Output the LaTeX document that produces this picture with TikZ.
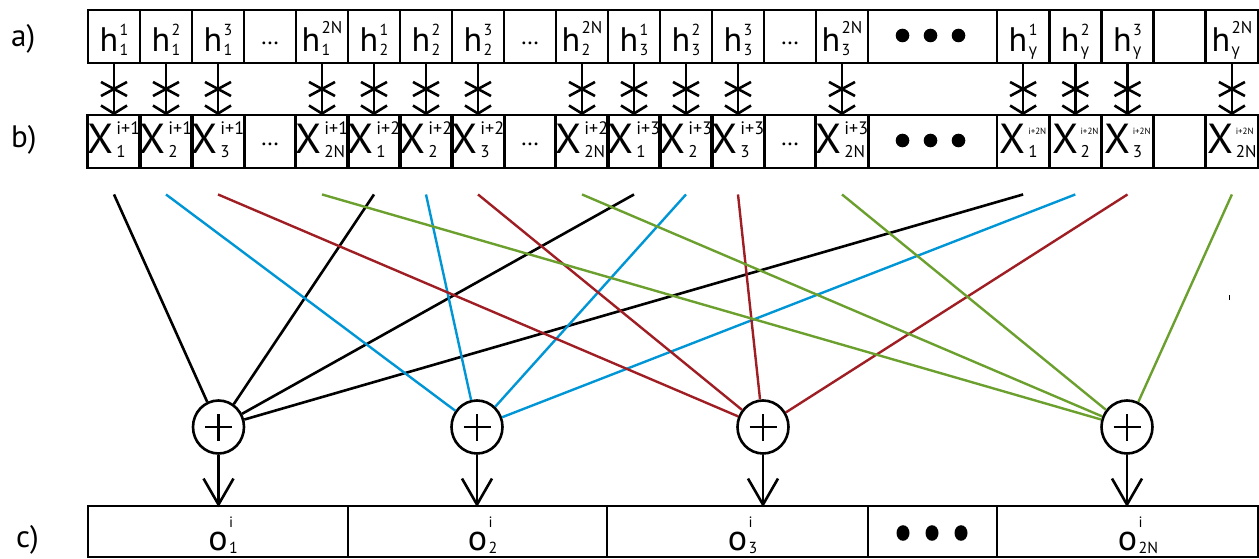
\documentclass[tikz,border=0pt]{standalone}
\usepackage{fontspec}
\setmainfont{PT Sans}
\newfontfamily\grk{Open Sans}
\usetikzlibrary{shapes.geometric}
\definecolor{lblue}{RGB}{0,150,214}
\definecolor{dred}{RGB}{158,30,36}
\definecolor{lgreen}{RGB}{107,160,46}
\newsavebox\stkA
\newsavebox\stkB
\newlength\stkW
% #1 sup size, #2 raise, #3 sup, #4 sub size, #5 lower, #6 sub
\newcommand{\stk}[6]{%
  \sbox\stkA{\fontsize{#1}{#1}\selectfont #3}%
  \sbox\stkB{\fontsize{#4}{#4}\selectfont #6}%
  \setlength\stkW{\wd\stkA}%
  \ifdim\wd\stkB>\stkW \setlength\stkW{\wd\stkB}\fi
  \hspace{1.5pt}\rlap{\raisebox{#2}{\usebox\stkA}}\makebox[\stkW][l]{\raisebox{-#5}{\usebox\stkB}}}
\newcommand{\hs}[2]{{\fontsize{34}{34}\selectfont h}\stk{16}{16pt}{#1}{16}{4pt}{#2}}
\newcommand{\hN}[1]{{\fontsize{34}{34}\selectfont h}\stk{17}{18pt}{2N}{16}{4pt}{#1}}
\newcommand{\xs}[2]{{\fontsize{42}{42}\selectfont X}\hspace{1pt}\stk{18}{19pt}{#1}{17}{4pt}{#2}}
\newcommand{\os}[1]{{\fontsize{36}{36}\selectfont o}\rlap{\stk{15}{23pt}{i}{16}{3pt}{#1}}}
\newcommand{\gam}{{\grk γ}}
\newcommand{\tinysup}{\fontsize{9}{9}\selectfont i+2N}
\newcommand{\ellA}{\raisebox{7pt}{\fontsize{24}{24}\selectfont …}}
\newcommand{\ellB}{\raisebox{9pt}{\fontsize{24}{24}\selectfont …}}
\begin{document}
\begin{tikzpicture}[x=1pt,y=-1pt,
  cellbox/.style={draw, line width=2.9pt, inner sep=0pt, minimum width=52pt, minimum height=53pt},
  rowa/.style={cellbox, text height=34pt, text depth=3pt},
  rowb/.style={cellbox, text height=28pt, text depth=3pt},
  rowc/.style={cellbox, minimum height=51pt, text height=40pt, text depth=3pt},
  wide/.style={minimum width=129pt},
  gcell/.style={minimum width=52.2pt},
  conn/.style={line width=2.6pt},
  sumnode/.style={ellipse, draw, line width=2.6pt, minimum width=51pt, minimum height=53pt, inner sep=0pt, fill=white,
    path picture={\draw[line width=2.6pt]
      ([xshift=-13.5pt]path picture bounding box.center) -- ([xshift=13.5pt]path picture bounding box.center)
      ([yshift=-13.5pt]path picture bounding box.center) -- ([yshift=13.5pt]path picture bounding box.center);}},
  wire/.style={line width=2.4pt},
  lbl/.style={anchor=base west, inner sep=0pt, font=\fontsize{31}{31}\selectfont},
  bigdot/.style={fill=black}
]
\useasboundingbox (0,0) rectangle (1259,559);

% labels
\node[lbl] (la) at (11,47) {a)};
\node[lbl] (lb) at (11,148) {b)};
\node[lbl] (lc) at (16,547) {c)};

% row a
\node[rowa] (a1) at (114,36.5) {\hs{1}{1}};
\node[rowa] (a2) at (166,36.5) {\hs{2}{1}};
\node[rowa] (a3) at (218,36.5) {\hs{3}{1}};
\node[rowa] (a4) at (270,36.5) {\ellA};
\node[rowa] (a5) at (322,36.5) {\hN{1}};
\node[rowa] (a6) at (374,36.5) {\hs{1}{2}};
\node[rowa] (a7) at (426,36.5) {\hs{2}{2}};
\node[rowa] (a8) at (478,36.5) {\hs{3}{2}};
\node[rowa] (a9) at (530,36.5) {\ellA};
\node[rowa] (a10) at (582,36.5) {\hN{2}};
\node[rowa] (a11) at (634,36.5) {\hs{1}{3}};
\node[rowa] (a12) at (686,36.5) {\hs{2}{3}};
\node[rowa] (a13) at (738,36.5) {\hs{3}{3}};
\node[rowa] (a14) at (790,36.5) {\ellA};
\node[rowa] (a15) at (842,36.5) {\hN{3}};
\node[rowa,wide] (a16) at (932.5,36.5) {};
\node[rowa,gcell] (a17) at (1023.1,36.5) {\hs{1}{\gam}};
\node[rowa,gcell] (a18) at (1075.3,36.5) {\hs{2}{\gam}};
\node[rowa,gcell] (a19) at (1127.5,36.5) {\hs{3}{\gam}};
\node[rowa,gcell] (a20) at (1179.7,36.5) {};
\node[rowa,gcell] (a21) at (1231.9,36.5) {\hN{\gam}};

% row b
\node[rowb] (b1) at (114,141.5) {\xs{i+1}{1}};
\node[rowb] (b2) at (166,141.5) {\xs{i+1}{2}};
\node[rowb] (b3) at (218,141.5) {\xs{i+1}{3}};
\node[rowb] (b4) at (270,141.5) {\ellB};
\node[rowb] (b5) at (322,141.5) {\xs{i+1}{2N}};
\node[rowb] (b6) at (374,141.5) {\xs{i+2}{1}};
\node[rowb] (b7) at (426,141.5) {\xs{i+2}{2}};
\node[rowb] (b8) at (478,141.5) {\xs{i+2}{3}};
\node[rowb] (b9) at (530,141.5) {\ellB};
\node[rowb] (b10) at (582,141.5) {\xs{i+2}{2N}};
\node[rowb] (b11) at (634,141.5) {\xs{i+3}{1}};
\node[rowb] (b12) at (686,141.5) {\xs{i+3}{2}};
\node[rowb] (b13) at (738,141.5) {\xs{i+3}{3}};
\node[rowb] (b14) at (790,141.5) {\ellB};
\node[rowb] (b15) at (842,141.5) {\xs{i+3}{2N}};
\node[rowb,wide] (b16) at (932.5,141.5) {};
\node[rowb,gcell] (b17) at (1023.1,141.5) {\xs{\tinysup}{1}};
\node[rowb,gcell] (b18) at (1075.3,141.5) {\xs{\tinysup}{2}};
\node[rowb,gcell] (b19) at (1127.5,141.5) {\xs{\tinysup}{3}};
\node[rowb,gcell] (b20) at (1179.7,141.5) {};
\node[rowb,gcell] (b21) at (1231.9,141.5) {\xs{\tinysup}{2N}};

% row c
\node[rowc, minimum width=260pt] (c1) at (218,531.5) {\os{1}};
\node[rowc, minimum width=259pt] (c2) at (477.5,531.5) {\os{2}};
\node[rowc, minimum width=261pt] (c3) at (737.5,531.5) {\os{3}};
\node[rowc, minimum width=129pt] (c4) at (932.5,531.5) {};
\node[rowc, minimum width=261pt] (c5) at (1127.5,531.5) {\os{2N}};

% big dots
\foreach \n in {a16,b16} {
  \fill[bigdot] (\n.center) ++(-30,-1) circle (6.8);
  \fill[bigdot] (\n.center) ++(-2,-1) circle (6.8);
  \fill[bigdot] (\n.center) ++(26,-1) circle (6.8);
}
\fill[bigdot] (c4.center) ++(-29.5,1.5) ellipse (6.5 and 7.8);
\fill[bigdot] (c4.center) ++(-0.5,1.5) ellipse (6.5 and 7.8);
\fill[bigdot] (c4.center) ++(28.5,1.5) ellipse (6.5 and 7.8);

% multiplications a -> b
\foreach \k in {1,2,3,5,6,7,8,10,11,12,13,15,17,18,19,21} {
  \draw[conn] (a\k) -- coordinate (m\k) (b\k);
  \draw[conn] (m\k) ++(-13,-7) -- ++(26,14);
  \draw[conn] (m\k) ++(-13,7) -- ++(26,-14);
  \draw[conn] (b\k.north) ++(-13,-8) -- (b\k.north) -- ++(13,-8);
}

% line tops
\foreach \k in {1,2,3,5,6,7,8,10,11,12,13,15,17,18,19,21}
  \path (b\k.south) ++(0,25) coordinate (t\k);

% summation nodes
\node[sumnode] (p1) at (218.5,427) {};
\node[sumnode] (p2) at (477,427) {};
\node[sumnode] (p3) at (763,427) {};
\node[sumnode] (p4) at (1127,427) {};

\foreach \k in {1,6,11,17} \draw[wire, black, line width=2.6pt] (t\k) -- (p1);
\foreach \k in {2,7,12,18} \draw[wire, lblue] (t\k) -- (p2);
\foreach \k in {3,8,13,19} \draw[wire, dred] (t\k) -- (p3);
\foreach \k in {5,10,15,21} \draw[wire, lgreen] (t\k) -- (p4);

\foreach \i/\c in {1/c1,2/c2,3/c3,4/c5} {
  \draw[conn] (p\i) -- (p\i |- \c.north) coordinate (e\i);
  \draw[conn] (e\i) ++(-15,-26) -- (e\i) -- ++(15,-26);
}

% stray mark
\draw[line width=1pt] (1229,295) -- (1229,300);
\end{tikzpicture}
\end{document}
